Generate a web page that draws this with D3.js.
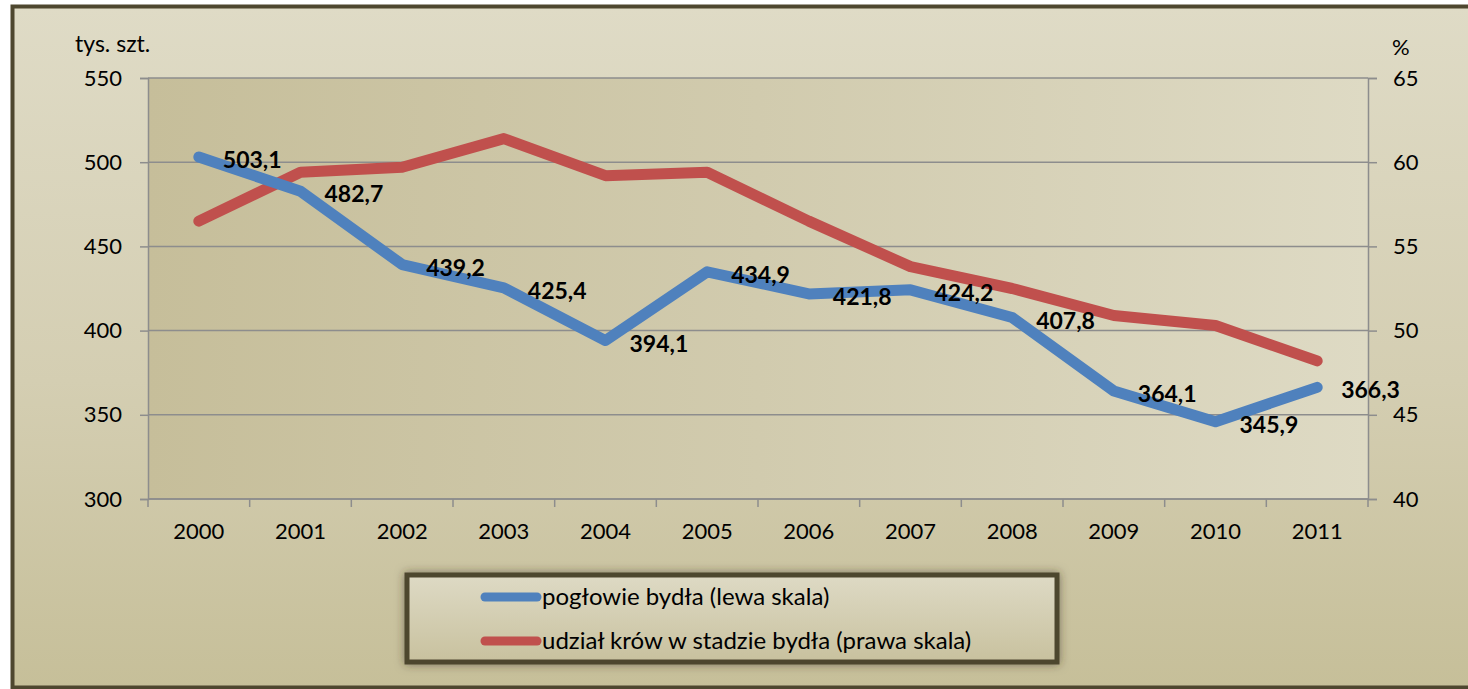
<!DOCTYPE html>
<html>
<head>
<meta charset="utf-8">
<script src="https://cdn.jsdelivr.net/npm/d3@7"></script>
<style>
  html, body { margin: 0; padding: 0; background: #ffffff; }
  svg { display: block; }
  text { font-family: Lato, "Open Sans", sans-serif; fill: #000; }
</style>
</head>
<body>
<svg id="chart" width="1468" height="689"></svg>
<script>
// Lata
const years = ["2000","2001","2002","2003","2004","2005","2006","2007","2008","2009","2010","2011"];
// Pogłowie bydła, tys. szt. (lewa skala)
const cattle = [503.1, 482.7, 439.2, 425.4, 394.1, 434.9, 421.8, 424.2, 407.8, 364.1, 345.9, 366.3];
// Udział krów w stadzie bydła, % (prawa skala)
const cowShare = [56.5, 59.4, 59.7, 61.4, 59.2, 59.4, 56.5, 53.8, 52.5, 50.9, 50.3, 48.2];
// Podziałki osi
const leftTicks = [300, 350, 400, 450, 500, 550];
const rightTicks = [40, 45, 50, 55, 60, 65];
const seriesNames = ["pogłowie bydła (lewa skala)", "udział krów w stadzie bydła (prawa skala)"];
const seriesColors = ["#4f81bd", "#c0504d"];

const svg = d3.select("#chart");
const defs = svg.append("defs");

const outerGrad = defs.append("linearGradient").attr("id", "outerBg")
  .attr("x1", 0).attr("y1", 0).attr("x2", 0).attr("y2", 1);
outerGrad.append("stop").attr("offset", "0%").attr("stop-color", "#dfdbc6");
outerGrad.append("stop").attr("offset", "55%").attr("stop-color", "#d4ceb2");
outerGrad.append("stop").attr("offset", "100%").attr("stop-color", "#c6bf99");

const plotGrad = defs.append("linearGradient").attr("id", "plotBg")
  .attr("x1", 0).attr("y1", 0).attr("x2", 1).attr("y2", 0);
plotGrad.append("stop").attr("offset", "0%").attr("stop-color", "#c6be9a");
plotGrad.append("stop").attr("offset", "50%").attr("stop-color", "#d1cbae");
plotGrad.append("stop").attr("offset", "100%").attr("stop-color", "#dedac4");

const legGrad = defs.append("linearGradient").attr("id", "legBg")
  .attr("x1", 0).attr("y1", 0).attr("x2", 0).attr("y2", 1);
legGrad.append("stop").attr("offset", "0%").attr("stop-color", "#dedac5");
legGrad.append("stop").attr("offset", "100%").attr("stop-color", "#c8c19e");

const shadow = defs.append("filter").attr("id", "legShadow")
  .attr("x", "-10%").attr("y", "-30%").attr("width", "120%").attr("height", "160%");
shadow.append("feDropShadow").attr("dx", 0).attr("dy", 0).attr("stdDeviation", 5)
  .attr("flood-color", "#3a3320").attr("flood-opacity", 0.55);

// tło wykresu i ramka
svg.append("rect").attr("x", 0).attr("y", 0).attr("width", 1468).attr("height", 689).attr("fill", "#ffffff");
svg.append("rect").attr("x", 12.5).attr("y", 6.5).attr("width", 1480).attr("height", 681)
  .attr("fill", "url(#outerBg)").attr("stroke", "#4e472f").attr("stroke-width", 4);

const plot = { left: 148, right: 1368, top: 78, bottom: 499 };

const x = d3.scaleBand().domain(years).range([plot.left, plot.right]).padding(0);
const yL = d3.scaleLinear().domain([300, 550]).range([plot.bottom, plot.top]);
const yR = d3.scaleLinear().domain([40, 65]).range([plot.bottom, plot.top]);
const cx = d => x(d) + x.bandwidth() / 2;

svg.append("rect").attr("x", plot.left).attr("y", plot.top)
  .attr("width", plot.right - plot.left).attr("height", plot.bottom - plot.top)
  .attr("fill", "url(#plotBg)");

// siatka pozioma
svg.append("g").selectAll("line").data(leftTicks).join("line")
  .attr("x1", plot.left).attr("x2", plot.right)
  .attr("y1", d => yL(d)).attr("y2", d => yL(d))
  .attr("stroke", "#8d8d8d").attr("stroke-width", 1.5);

// oś lewa
const axL = svg.append("g").attr("transform", `translate(${plot.left},0)`)
  .call(d3.axisLeft(yL).tickValues(leftTicks).tickSize(8).tickPadding(18).tickFormat(d3.format("d")));
// oś prawa
const axR = svg.append("g").attr("transform", `translate(${plot.right},0)`)
  .call(d3.axisRight(yR).tickValues(rightTicks).tickSize(9).tickPadding(16).tickFormat(d3.format("d")));
// oś dolna — podziałki na granicach kategorii
const axB = svg.append("g").attr("transform", `translate(0,${plot.bottom})`)
  .call(d3.axisBottom(x).tickSize(0).tickPadding(24));
axB.selectAll(".tick").append("line")
  .attr("x1", -x.bandwidth() / 2).attr("x2", -x.bandwidth() / 2)
  .attr("y1", 0).attr("y2", 8);
axB.append("line").attr("x1", plot.right).attr("x2", plot.right).attr("y1", 0).attr("y2", 8);

[axL, axR, axB].forEach(g => {
  g.select(".domain").attr("stroke", "#8d8d8d").attr("stroke-width", 1.5);
  g.selectAll("line").attr("stroke", "#8d8d8d").attr("stroke-width", 1.5);
  g.selectAll("text").attr("font-family", "Lato, sans-serif").attr("font-size", 22).attr("fill", "#000");
});
axB.select(".domain").attr("d", `M${plot.left},0H${plot.right}`);

// jednostki osi
svg.append("text").attr("x", 75).attr("y", 52).attr("font-size", 23).text("tys. szt.");
svg.append("text").attr("x", 1392).attr("y", 55).attr("font-size", 22).text("%");

// linie serii
const lineL = d3.line().x((d, i) => cx(years[i])).y(d => yL(d));
const lineR = d3.line().x((d, i) => cx(years[i])).y(d => yR(d));

svg.append("path").datum(cowShare).attr("d", lineR)
  .attr("fill", "none").attr("stroke", seriesColors[1]).attr("stroke-width", 11)
  .attr("stroke-linejoin", "round").attr("stroke-linecap", "round");
svg.append("path").datum(cattle).attr("d", lineL)
  .attr("fill", "none").attr("stroke", seriesColors[0]).attr("stroke-width", 11)
  .attr("stroke-linejoin", "round").attr("stroke-linecap", "round");

// etykiety wartości pogłowia
const fmt = v => d3.format(".1f")(v).replace(".", ",");
svg.append("g").selectAll("text").data(cattle).join("text")
  .attr("x", (d, i) => cx(years[i]) + 24)
  .attr("y", d => yL(d) + 3)
  .attr("dy", "0.35em")
  .attr("font-size", 23).attr("font-weight", "bold")
  .text(d => fmt(d));

// legenda
const leg = { x: 407, y: 575, w: 650, h: 87 };
svg.append("rect").attr("x", leg.x).attr("y", leg.y).attr("width", leg.w).attr("height", leg.h)
  .attr("fill", "url(#legBg)").attr("stroke", "#4e472f").attr("stroke-width", 5)
  .attr("filter", "url(#legShadow)");
const legItems = svg.append("g").selectAll("g").data(seriesNames).join("g")
  .attr("transform", (d, i) => `translate(0,${597 + i * 44})`);
legItems.append("line").attr("x1", 485).attr("x2", 537).attr("y1", 0).attr("y2", 0)
  .attr("stroke", (d, i) => seriesColors[i]).attr("stroke-width", 9).attr("stroke-linecap", "round");
legItems.append("text").attr("x", 542).attr("y", 0).attr("dy", "0.35em")
  .attr("font-size", 24).text(d => d);
</script>
</body>
</html>
